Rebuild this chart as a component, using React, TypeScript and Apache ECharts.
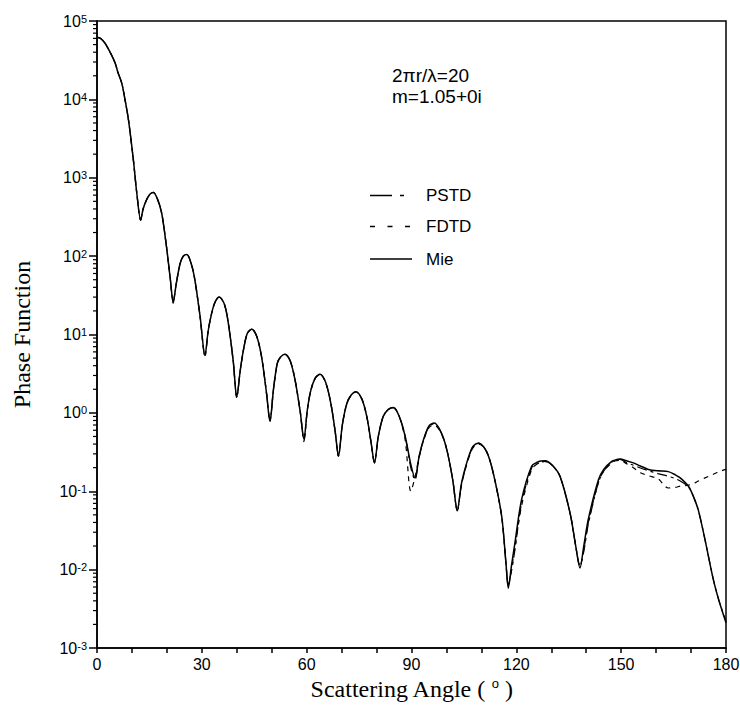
import React, { useEffect, useRef } from "react";
import * as echarts from "echarts";

// Phase function vs scattering angle (degrees)
const mie: [number, number][] = [
  [0, 62000], [1, 60000], [2.3, 52000], [4, 38000], [5.2, 29000], [6, 22000], [7.1, 16000], [8, 10000],
  [9, 5500], [10.4, 1700], [11.4, 630], [12.5, 290], [13.2, 400], [14.2, 525], [15.2, 620], [16.1, 650],
  [17.2, 550], [18.5, 355], [19.9, 130], [21, 50], [21.8, 26], [22.7, 45], [23.8, 81], [24.7, 100],
  [25.7, 105], [27, 79], [28, 50], [29.5, 17], [30.9, 5.4], [31.8, 11], [32.8, 18.6], [33.8, 26],
  [35, 30], [36.5, 24], [37.6, 13.8], [39, 4.5], [40, 1.6], [41, 3.5], [41.9, 6.3], [43, 10.3],
  [44.3, 11.7], [45.7, 9.5], [47.1, 5.2], [48.5, 1.8], [49.5, 0.78], [50.5, 2.0], [51.6, 4.3], [52.6, 5.2],
  [53.8, 5.6], [55.3, 4.6], [56.7, 2.6], [58.2, 1.0], [59.2, 0.46], [60.2, 1.1], [61.2, 1.95], [62.5, 2.8],
  [63.8, 3.1], [65.5, 2.4], [67, 1.26], [68.2, 0.56], [69.1, 0.28], [70.2, 0.7], [71.5, 1.32], [72.8, 1.7],
  [74.1, 1.86], [75.8, 1.5], [77.2, 0.9], [78.5, 0.4], [79.4, 0.23], [80.5, 0.5], [81.9, 0.9], [83.3, 1.1],
  [84.8, 1.17], [86.5, 0.9], [88.2, 0.5], [89.8, 0.22], [91, 0.148], [92.2, 0.28], [93.4, 0.45], [95, 0.68],
  [96.5, 0.74], [98.5, 0.56], [100.1, 0.34], [101.8, 0.14], [103.1, 0.057], [104.3, 0.126], [105.8, 0.23], [107.3, 0.355],
  [108.3, 0.4], [109.3, 0.41], [111.5, 0.32], [113.4, 0.17], [115.8, 0.048], [117, 0.0126], [117.7, 0.0058], [118.6, 0.0112],
  [119.6, 0.022], [121.5, 0.078], [124.4, 0.21], [126, 0.235], [127, 0.243], [128.2, 0.245], [130.5, 0.21], [132.5, 0.155],
  [135.4, 0.052], [137, 0.02], [138.2, 0.0105], [139.3, 0.02], [140.6, 0.044], [143.5, 0.14], [145, 0.19], [147.3, 0.24],
  [148.5, 0.252], [149.7, 0.257], [151.5, 0.245], [153.5, 0.23], [155.5, 0.21], [157.8, 0.19], [160.5, 0.182], [163.5, 0.178],
  [165.5, 0.162], [166.9, 0.148], [169.3, 0.115], [170.8, 0.083], [172.1, 0.057], [174, 0.024], [176.4, 0.0074], [178, 0.004],
  [180, 0.0021],
];

const pstd: [number, number][] = [
  [0, 62000], [1, 60000], [2.3, 52000], [4, 38000], [5.2, 29000], [6, 22000], [7.1, 16000], [8, 10000],
  [9, 5500], [10.4, 1700], [11.4, 630], [12.5, 285], [13.2, 400], [14.2, 525], [15.2, 620], [16.1, 650],
  [17.2, 550], [18.5, 355], [19.9, 130], [21, 50], [21.8, 25], [22.7, 45], [23.8, 81], [24.7, 100],
  [25.7, 105], [27, 79], [28, 50], [29.5, 17], [30.9, 5.2], [31.8, 11], [32.8, 18.6], [33.8, 26],
  [35, 30], [36.5, 24], [37.6, 13.8], [39, 4.5], [40, 1.55], [41, 3.5], [41.9, 6.3], [43, 10.3],
  [44.3, 11.7], [45.7, 9.5], [47.1, 5.2], [48.5, 1.8], [49.5, 0.8], [50.5, 2.0], [51.6, 4.3], [52.6, 5.2],
  [53.8, 5.6], [55.3, 4.6], [56.7, 2.6], [58.2, 1.0], [59.2, 0.43], [60.2, 1.1], [61.2, 1.95], [62.5, 2.8],
  [63.8, 3.1], [65.5, 2.4], [67, 1.26], [68.2, 0.56], [69.1, 0.28], [70.2, 0.7], [71.5, 1.32], [72.8, 1.7],
  [74.1, 1.86], [75.8, 1.5], [77.2, 0.9], [78.5, 0.4], [79.4, 0.23], [80.5, 0.5], [81.9, 0.9], [83.3, 1.1],
  [84.8, 1.17], [86.5, 0.9], [88.2, 0.5], [89.8, 0.2], [91, 0.14], [92.2, 0.27], [93.4, 0.44], [95, 0.67],
  [96.5, 0.73], [98.5, 0.56], [100.1, 0.34], [101.8, 0.14], [103.1, 0.056], [104.3, 0.12], [105.8, 0.225], [107.3, 0.35],
  [108.3, 0.4], [109.3, 0.41], [111.5, 0.32], [113.4, 0.17], [115.8, 0.048], [117, 0.0126], [117.7, 0.0065], [118.6, 0.0095],
  [119.6, 0.018], [121.5, 0.07], [124.4, 0.2], [126, 0.225], [127, 0.235], [128.2, 0.24], [130.5, 0.21], [132.5, 0.155],
  [135.4, 0.052], [137, 0.02], [138.2, 0.0115], [139.3, 0.017], [140.6, 0.038], [143.5, 0.13], [145, 0.18], [147.3, 0.235],
  [148.5, 0.25], [149.7, 0.255], [151.5, 0.232], [153.5, 0.215], [155.5, 0.198], [157.8, 0.183], [160.5, 0.168], [163.5, 0.155],
  [165.5, 0.145], [166.9, 0.135], [169.3, 0.113], [170.8, 0.083], [172.1, 0.057], [174, 0.024], [176.4, 0.0074], [178, 0.004],
  [180, 0.0022],
];

const fdtd: [number, number][] = [
  [0, 62000], [1, 60000], [2.3, 52000], [4, 38000], [5.2, 29000], [6, 22000], [7.1, 16000], [8, 10000],
  [9, 5500], [10.4, 1700], [11.4, 630], [12.5, 290], [13.2, 400], [14.2, 525], [15.2, 620], [16.1, 650],
  [17.2, 550], [18.5, 355], [19.9, 130], [21, 50], [21.8, 26], [22.7, 45], [23.8, 81], [24.7, 100],
  [25.7, 105], [27, 79], [28, 50], [29.5, 17], [30.9, 5.4], [31.8, 11], [32.8, 18.6], [33.8, 26],
  [35, 30], [36.5, 24], [37.6, 13.8], [39, 4.5], [40, 1.6], [41, 3.5], [41.9, 6.3], [43, 10.3],
  [44.3, 11.7], [45.7, 9.5], [47.1, 5.2], [48.5, 1.8], [49.5, 0.78], [50.5, 2.0], [51.6, 4.3], [52.6, 5.2],
  [53.8, 5.6], [55.3, 4.6], [56.7, 2.6], [58.2, 1.0], [59.2, 0.46], [60.2, 1.1], [61.2, 1.95], [62.5, 2.8],
  [63.8, 3.1], [65.5, 2.4], [67, 1.26], [68.2, 0.56], [69.1, 0.28], [70.2, 0.7], [71.5, 1.32], [72.8, 1.7],
  [74.1, 1.86], [75.8, 1.5], [77.2, 0.9], [78.5, 0.4], [79.4, 0.23], [80.5, 0.5], [81.9, 0.9], [83.3, 1.1],
  [84.8, 1.17], [86.5, 0.9], [88.2, 0.45], [89.8, 0.1], [91, 0.15], [92.2, 0.28], [93.4, 0.44], [95, 0.65],
  [96.5, 0.7], [98.5, 0.55], [100.1, 0.34], [101.8, 0.14], [103.1, 0.057], [104.3, 0.12], [105.8, 0.22], [107.3, 0.34],
  [108.3, 0.39], [109.3, 0.4], [111.5, 0.32], [113.4, 0.17], [115.8, 0.048], [117, 0.0126], [117.7, 0.0062], [118.6, 0.01],
  [119.6, 0.019], [121.5, 0.065], [124.4, 0.19], [126, 0.225], [127, 0.235], [128.2, 0.24], [130.5, 0.21], [132.5, 0.155],
  [135.4, 0.052], [137, 0.02], [138.2, 0.011], [139.3, 0.018], [140.6, 0.04], [143.5, 0.13], [145, 0.18], [147.3, 0.23],
  [148.5, 0.245], [149.7, 0.248], [151.5, 0.225], [153.5, 0.2], [155.5, 0.172], [157.8, 0.158], [160.5, 0.145], [163.5, 0.11],
  [165.5, 0.112], [166.9, 0.116], [169.3, 0.12], [170.8, 0.126], [172.1, 0.135], [174, 0.148], [176.4, 0.165], [178, 0.178],
  [180, 0.19],
];

const xTickLabels = [0, 30, 60, 90, 120, 150, 180];
const yDecades = [-3, -2, -1, 0, 1, 2, 3, 4, 5];
const annotationLines = ["2πr/λ=20", "m=1.05+0i"];
const legendNames = ["PSTD", "FDTD", "Mie"];

const SANS = "'Liberation Sans', Arial, sans-serif";
const SERIF = "'Liberation Serif', 'Times New Roman', serif";

export default function App() {
  const ref = useRef<HTMLDivElement>(null);

  useEffect(() => {
    if (!ref.current) return;
    const chart = echarts.init(ref.current, null, { renderer: "svg" });

    // minor log ticks (2..9 within each decade)
    const minorTicks: [number, number][] = [];
    for (let i = 0; i < yDecades.length - 1; i++) {
      for (let m = 2; m <= 9; m++) {
        minorTicks.push([0, m * Math.pow(10, yDecades[i])]);
      }
    }

    const legendY = [195.5, 226.5, 259];
    const SMOOTH = 0.3;

    chart.setOption({
      animation: false,
      backgroundColor: "#fff",
      grid: {
        left: 97,
        right: 14,
        top: 21,
        bottom: 62,
        outerBoundsMode: "none",
        containLabel: false,
        show: true,
        borderColor: "#000",
        borderWidth: 1.5,
        backgroundColor: "transparent",
      },
      xAxis: {
        type: "value",
        min: 0,
        max: 180,
        interval: 10,
        name: "Scattering Angle ( {s|o} )",
        nameLocation: "middle",
        nameGap: 28,
        nameTextStyle: {
          fontFamily: SERIF,
          fontSize: 24,
          color: "#000",
          rich: {
            s: { fontFamily: SANS, fontSize: 13, color: "#000", verticalAlign: "top", padding: [0, 0, 10, 0] },
          },
        },
        axisLine: { show: true, lineStyle: { color: "#000", width: 1.5 } },
        axisTick: { show: true, inside: false, length: 5, lineStyle: { color: "#000", width: 1.5 } },
        axisLabel: {
          color: "#000",
          fontFamily: SANS,
          fontSize: 16,
          margin: 8,
          formatter: (v: number) => (xTickLabels.indexOf(v) >= 0 ? String(v) : ""),
        },
        splitLine: { show: false },
      },
      yAxis: {
        type: "log",
        logBase: 10,
        min: 0.001,
        max: 100000,
        splitNumber: 8,
        name: "Phase Function",
        nameLocation: "middle",
        nameGap: 63,
        nameRotate: 90,
        nameTextStyle: { fontFamily: SERIF, fontSize: 24, color: "#000" },
        axisLine: { show: true, lineStyle: { color: "#000", width: 1.5 } },
        axisTick: { show: true, inside: false, length: 8, lineStyle: { color: "#000", width: 1.5 } },
        axisLabel: {
          margin: 10,
          formatter: (v: number) => {
            const e = Math.round(Math.log10(v));
            return `{b|10}{s|${e}}`;
          },
          rich: {
            b: { fontFamily: SANS, fontSize: 16, color: "#000", lineHeight: 16, verticalAlign: "bottom" },
            s: { fontFamily: SANS, fontSize: 11, color: "#000", lineHeight: 11, verticalAlign: "top", padding: [0, 0, 7, 0] },
          },
        },
        splitLine: { show: false },
      },
      series: [
        {
          name: "FDTD",
          type: "line",
          data: fdtd,
          symbol: "none",
          smooth: SMOOTH,
          lineStyle: { color: "#000", width: 1.2, type: [5, 5] },
          z: 2,
        },
        {
          name: "PSTD",
          type: "line",
          data: pstd,
          symbol: "none",
          smooth: SMOOTH,
          lineStyle: { color: "#000", width: 1.2, type: [10, 4, 3, 4] },
          z: 3,
        },
        {
          name: "Mie",
          type: "line",
          data: mie,
          symbol: "none",
          smooth: SMOOTH,
          lineStyle: { color: "#000", width: 1.5 },
          z: 4,
        },
        {
          type: "custom",
          data: minorTicks,
          silent: true,
          clip: false,
          renderItem: (_params: any, api: any) => {
            const p = api.coord([api.value(0), api.value(1)]);
            return {
              type: "line",
              shape: { x1: p[0] - 4, y1: p[1], x2: p[0], y2: p[1] },
              style: { stroke: "#000", lineWidth: 1.2 },
            };
          },
          z: 5,
        },
      ],
      graphic: [
        {
          type: "text",
          x: 392,
          y: 75,
          style: { text: annotationLines[0], font: `19px ${SANS}`, fill: "#000", textVerticalAlign: "middle" },
        },
        {
          type: "text",
          x: 392,
          y: 96,
          style: { text: annotationLines[1], font: `19px ${SANS}`, fill: "#000", textVerticalAlign: "middle" },
        },
        // legend: PSTD
        {
          type: "line",
          shape: { x1: 370, y1: legendY[0], x2: 404, y2: legendY[0] },
          style: { stroke: "#000", lineWidth: 1.3, lineDash: [22, 8, 4, 100] },
        },
        {
          type: "text",
          x: 426,
          y: legendY[0],
          style: { text: legendNames[0], font: `17px ${SANS}`, fill: "#000", textVerticalAlign: "middle" },
        },
        // legend: FDTD
        {
          type: "line",
          shape: { x1: 370, y1: legendY[1], x2: 410, y2: legendY[1] },
          style: { stroke: "#000", lineWidth: 1.3, lineDash: [5, 12.5] },
        },
        {
          type: "text",
          x: 426,
          y: legendY[1],
          style: { text: legendNames[1], font: `17px ${SANS}`, fill: "#000", textVerticalAlign: "middle" },
        },
        // legend: Mie
        {
          type: "line",
          shape: { x1: 370, y1: legendY[2], x2: 412, y2: legendY[2] },
          style: { stroke: "#000", lineWidth: 1.3 },
        },
        {
          type: "text",
          x: 426,
          y: legendY[2],
          style: { text: legendNames[2], font: `17px ${SANS}`, fill: "#000", textVerticalAlign: "middle" },
        },
      ],
    });

    return () => chart.dispose();
  }, []);

  return (
    <div
      ref={ref}
      style={{ position: "fixed", left: 0, top: 0, width: 740, height: 710, background: "#fff" }}
    />
  );
}
